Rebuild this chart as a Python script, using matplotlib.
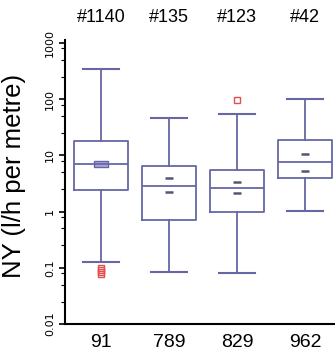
import matplotlib
matplotlib.use('Agg')
import matplotlib.pyplot as plt
from matplotlib import font_manager
from matplotlib.ticker import LogLocator, NullFormatter

# data (l/h per metre)
groups = ['#1140', '#135', '#123', '#42']
counts = ['91', '789', '829', '962']
whis_lo = [0.127, 0.085, 0.081, 1.04]
q1 = [2.4, 0.70, 0.98, 3.95]
med = [7.1, 2.9, 2.6, 7.5]
q3 = [17.7, 6.5, 5.5, 18.4]
whis_hi = [347, 46.5, 55, 100]
fliers = [[0.100, 0.092, 0.085, 0.078], [], [97], []]
ci_hi = [7.4, 4.0, 3.4, 10.7]
ci_lo = [6.7, 2.2, 2.1, 5.2]

names = [f.name for f in font_manager.fontManager.ttflist]
narrow = 'Liberation Sans Narrow' if 'Liberation Sans Narrow' in names else 'Liberation Sans'

box_col = '#6767a6'

fig = plt.figure(figsize=(3.35, 3.54), dpi=100)
ax = fig.add_axes([0.194, 0.085, 0.806, 0.802])

stats = []
for i in range(len(groups)):
    stats.append({'whislo': whis_lo[i], 'q1': q1[i], 'med': med[i], 'q3': q3[i],
                  'whishi': whis_hi[i], 'fliers': fliers[i]})

pos = [1, 2, 3, 4]
ax.bxp(stats, positions=pos, widths=0.8, capwidths=0.52, showfliers=True,
       boxprops=dict(color=box_col, linewidth=1.3),
       whiskerprops=dict(color=box_col, linewidth=1.3),
       capprops=dict(color=box_col, linewidth=1.5),
       medianprops=dict(color=box_col, linewidth=1.3),
       flierprops=dict(marker='s', markersize=4, markerfacecolor='none',
                       markeredgecolor='#e05050', markeredgewidth=1.0))

# little marks around the median (mean confidence limits)
ax.plot(pos, ci_hi, linestyle='none', marker='_', markersize=6,
        markeredgewidth=1.8, color='#555577')
ax.plot(pos, ci_lo, linestyle='none', marker='_', markersize=6,
        markeredgewidth=1.8, color='#555577')
# filled mark on first box where both limits meet
rect = [(-2, -1), (2, -1), (2, 1), (-2, 1), (-2, -1)]
ax.plot(pos[0], med[0], linestyle='none', marker=rect, markersize=10,
        markerfacecolor='#a8a8e0', markeredgecolor=box_col, markeredgewidth=1)

ax.set_yscale('log')
ax.set_ylim(0.01, 1130)
ax.set_xlim(0.47, 4.44)

ax.set_yticks([0.01, 0.1, 1, 10, 100, 1000])
ax.set_yticklabels(['0.01', '0.1', '1', '10', '100', '1000'], rotation=90,
                   va='center', fontsize=8)
ax.yaxis.set_minor_locator(LogLocator(base=10, subs=[2.5, 5, 8]))
ax.yaxis.set_minor_formatter(NullFormatter())
ax.tick_params(axis='y', which='major', direction='out', length=4, width=1.2, pad=3)
ax.tick_params(axis='y', which='minor', direction='out', length=3, width=0.8)

ax.set_xticks(pos)
ax.set_xticklabels(counts, fontsize=14, family=narrow)
ax.tick_params(axis='x', length=0, pad=7)

for p, g in zip(pos, groups):
    ax.text(p, 1.081, g, transform=ax.get_xaxis_transform(), ha='center',
            va='center', fontsize=13, family=narrow)

ax.set_ylabel('NY (l/h per metre)', fontsize=18.5, family='Liberation Sans')
ax.yaxis.set_label_coords(-0.144, 0.521)

for s in ['top', 'right']:
    ax.spines[s].set_visible(False)
ax.spines['left'].set_linewidth(1.5)
ax.spines['bottom'].set_linewidth(1.5)

fig.savefig('out.png', dpi=100)
